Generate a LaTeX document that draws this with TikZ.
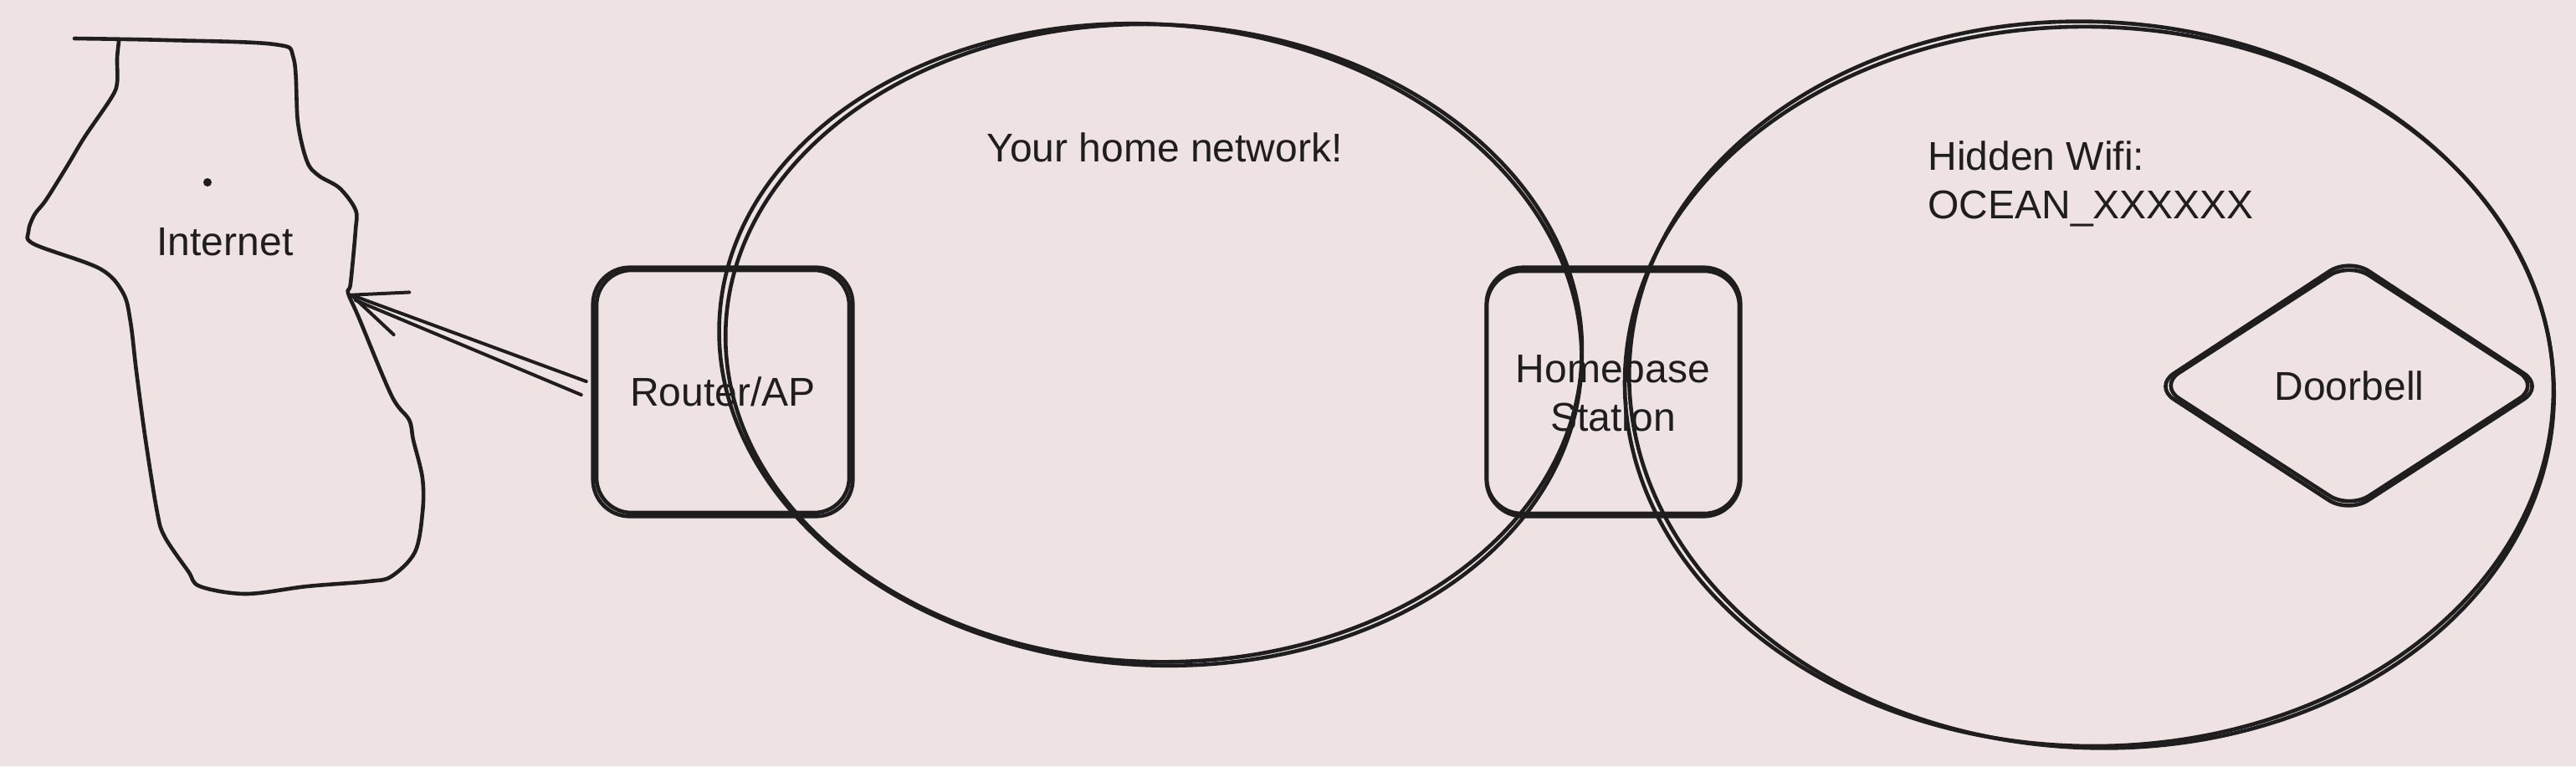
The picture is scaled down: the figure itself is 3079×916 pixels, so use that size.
\documentclass[tikz,border=0pt]{standalone}
\usepackage{fontspec}
\setmainfont{Liberation Sans}
\usetikzlibrary{arrows.meta, shapes.geometric}

\definecolor{paper}{RGB}{239,226,226}
\definecolor{ink}{RGB}{30,30,30}

\begin{document}
\begin{tikzpicture}[x = 0.5pt, y = -0.5pt]
    \tikzstyle{sketch}=[draw=ink,line width = 2.3pt,line cap=round,line join=round]
    \tikzstyle{txt}=[text=ink,inner sep=0pt,font=\fontsize{24}{29}\selectfont]
    \tikzstyle{device}=[sketch,txt,rounded corners=21pt,minimum width=151pt,minimum height=145pt,align=center]
    \tikzstyle{gadget}=[sketch,txt,diamond,aspect=1.56,rounded corners=14pt,minimum width=228pt,minimum height=148pt]
    \tikzstyle{dot}=[circle,fill=ink,inner sep=0pt,minimum size=5pt]
    \tikzstyle{link}=[sketch,line width = 2pt]
    \path[use as bounding box, fill=paper] (0,0) rectangle (3079,916);

    \draw[sketch] plot[smooth, tension=0.55] coordinates {
        (89,46) (200,48) (328,53) (351,70) (356,146) (367,193) (381,210)
        (406,225) (425,251) (425,275) (419,339) (416,350) (429,380) (468,473)
        (489,502) (494,526) (505,572) (505,613) (496,660) (468,689) (441,695)
        (367,701) (294,710) (239,701) (225,683) (197,642) (188,613) (174,526)
        (163,444) (156,385) (147,350) (119,321) (41,292) (34,277) (41,257)
        (55,239) (80,199) (101,164) (133,117) (140,99) (140,70) (142,50)};
    \node[dot] (inetdot) at (248,218) {};
    \node[txt] (internet) at (269,289) {Internet};
    \coordinate (inetport) at (418,352);

    \coordinate (homec) at (1375,412);
    \draw[sketch, rotate around={-4:(homec)}] (homec) ellipse [x radius=516, y radius=383];
    \draw[sketch, rotate around={-2:(homec)}] ([shift={(4,-2)}]homec) ellipse [x radius=512, y radius=381];
    \node[txt] (homelabel) at (1392,176) {Your home network!};

    \coordinate (hiddenc) at (2500,460);
    \draw[sketch, rotate around={-3:(hiddenc)}] (hiddenc) ellipse [x radius=553, y radius=434];
    \draw[sketch, rotate around={-1:(hiddenc)}] ([shift={(-3,2)}]hiddenc) ellipse [x radius=555, y radius=430];
    \node[txt, anchor=north west, align=left] (wifilabel) at (2304,168) {Hidden Wifi:\\OCEAN\_XXXXXX};

    \node[device] (router) at (864,468) {Router/AP};
    \draw[sketch, rounded corners=22pt] ([shift={(-2,2)}]router.south west) rectangle ([shift={(2,-1)}]router.north east);
    \node[device] (homebase) at (1928,469) {Homebase\\Station};
    \draw[sketch, rounded corners=22pt] ([shift={(2,1)}]homebase.south west) rectangle ([shift={(-1,-2)}]homebase.north east);

    \node[gadget] (doorbell) at (2808,461) {Doorbell};
    \draw[sketch, rounded corners=14pt] ([shift={(-3,1)}]doorbell.west) -- ([shift={(0,-2)}]doorbell.north) -- ([shift={(2,1)}]doorbell.east) -- ([shift={(-1,2)}]doorbell.south) -- cycle;

    \draw[link, -{Straight Barb[length=32pt, width=27pt, round]}] ([xshift=-5pt, yshift=6pt]router.west) -- (inetport);
    \draw[link] ([xshift=-8pt, yshift=-2pt]router.west) -- ([shift={(7,7)}]inetport);
\end{tikzpicture}
\end{document}
